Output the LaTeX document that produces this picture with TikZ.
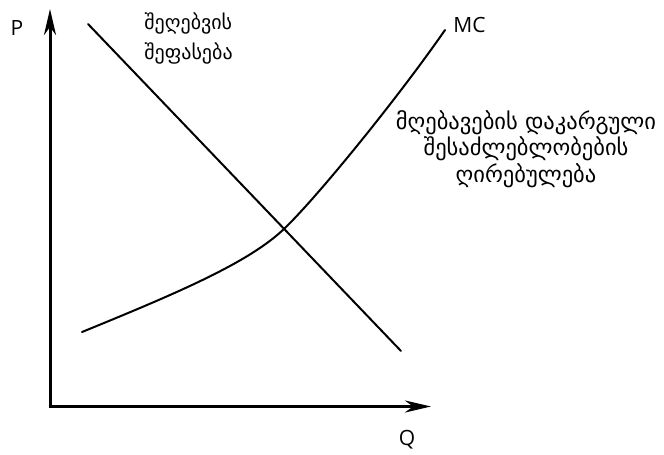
\documentclass[tikz,border=0pt]{standalone}
\usepackage{fontspec}
\setmainfont{Open Sans}
\newfontfamily\geofont{DejaVu Sans}
\usetikzlibrary{arrows.meta}
\tikzset{
  axis/.style={line width=3pt, -{Stealth[length=26pt, width=12pt, inset=8pt]}},
  curve/.style={line width=2pt, line cap=round},
  lbl/.style={font=\fontsize{21}{25}\selectfont, inner sep=0pt},
  geoleft/.style={font=\geofont\fontsize{20}{30}\selectfont, inner sep=0pt},
  georight/.style={font=\geofont\fontsize{22.5}{26.5}\selectfont, inner sep=0pt}
}
\begin{document}
\begin{tikzpicture}[x=1pt, y=-1pt]
\useasboundingbox (0,0) rectangle (664,455);
\coordinate (O) at (50,406.5);
\coordinate (ytip) at (50,9);
\coordinate (xtip) at (431,406.5);
\coordinate (d1) at (88,24);
\coordinate (d2) at (401,351);
\coordinate (mc1) at (82,332);
\coordinate (mcx) at (285,228);
\coordinate (mc2) at (445,30);
\draw[axis] (O) -- (ytip);
\draw[axis] ([xshift=-1.5pt]O) -- (xtip);
\draw[curve] (d1) -- (d2);
\draw[curve] (mc1) .. controls (180,292) and (250,262) .. (mcx)
  .. controls (320,194) and (400,95) .. (mc2);
\node[lbl] (P) at (17,28) {P};
\node[lbl] (Q) at (407,440) {Q};
\node[lbl] (MC) at (469.5,25) {MC};
\node[geoleft, align=left] (dem) at (188.5,38) {შეღებვის\\შეფასება};
\node[georight, align=center] (opp) at (526,149) {მღებავების დაკარგული\\შესაძლებლობების\\ღირებულება};
\end{tikzpicture}
\end{document}
